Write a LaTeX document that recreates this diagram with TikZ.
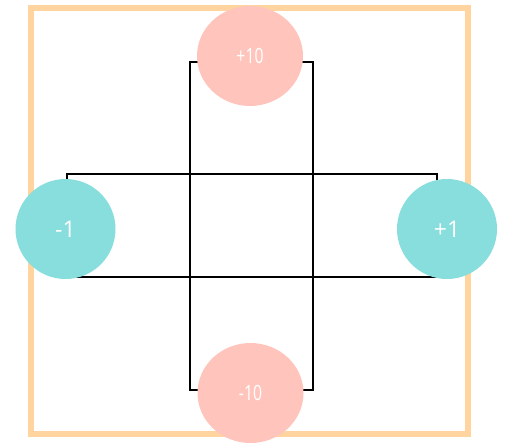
\documentclass[tikz,border=0pt]{standalone}
\usepackage{fontspec}
\setmainfont{Open Sans}
\usetikzlibrary{calc,backgrounds,shapes.geometric}
\definecolor{frameor}{HTML}{FFD49E}
\definecolor{pinkc}{HTML}{FFC5BC}
\definecolor{tealc}{HTML}{88DEDD}
\tikzset{
  pinknode/.style={ellipse,fill=pinkc,minimum width=106pt,minimum height=100pt,inner sep=0pt,text=white,font=\fontsize{21}{21}\selectfont},
  tealnode/.style={circle,fill=tealc,minimum size=100pt,inner sep=0pt,text=white,font=\fontsize{23}{23}\selectfont},
  conn/.style={draw=black,line width=1.6pt}
}
\begin{document}
\begin{tikzpicture}[x=1pt,y=-1pt]
\useasboundingbox (0,0) rectangle (505,444);
\draw[frameor,line width=6.5pt] (31,8) rectangle (468,434);
\node[pinknode] (top) at (250,56) {\scalebox{0.75}[1]{+10}};
\node[pinknode] (bot) at (250.5,393) {\scalebox{0.75}[1]{-10}};
\node[tealnode] (left) at (65.5,229) {-1};
\node[tealnode] (right) at (447,229) {+1};
\begin{scope}[on background layer]
\draw[conn] ($(top)+(0,6)$) -- ++(-60,0) |- ($(bot)+(0,-3)$);
\draw[conn] ($(top)+(0,6)$) -- ++(63,0) |- ($(bot)+(0,-3)$);
\draw[conn] ($(left)+(1.5,0)$) -- ++(0,-55) -| ($(right)+(-10,0)$);
\draw[conn] ($(left)+(1.5,0)$) -- ++(0,48) -| ($(right)+(-10,0)$);
\end{scope}
\end{tikzpicture}
\end{document}
